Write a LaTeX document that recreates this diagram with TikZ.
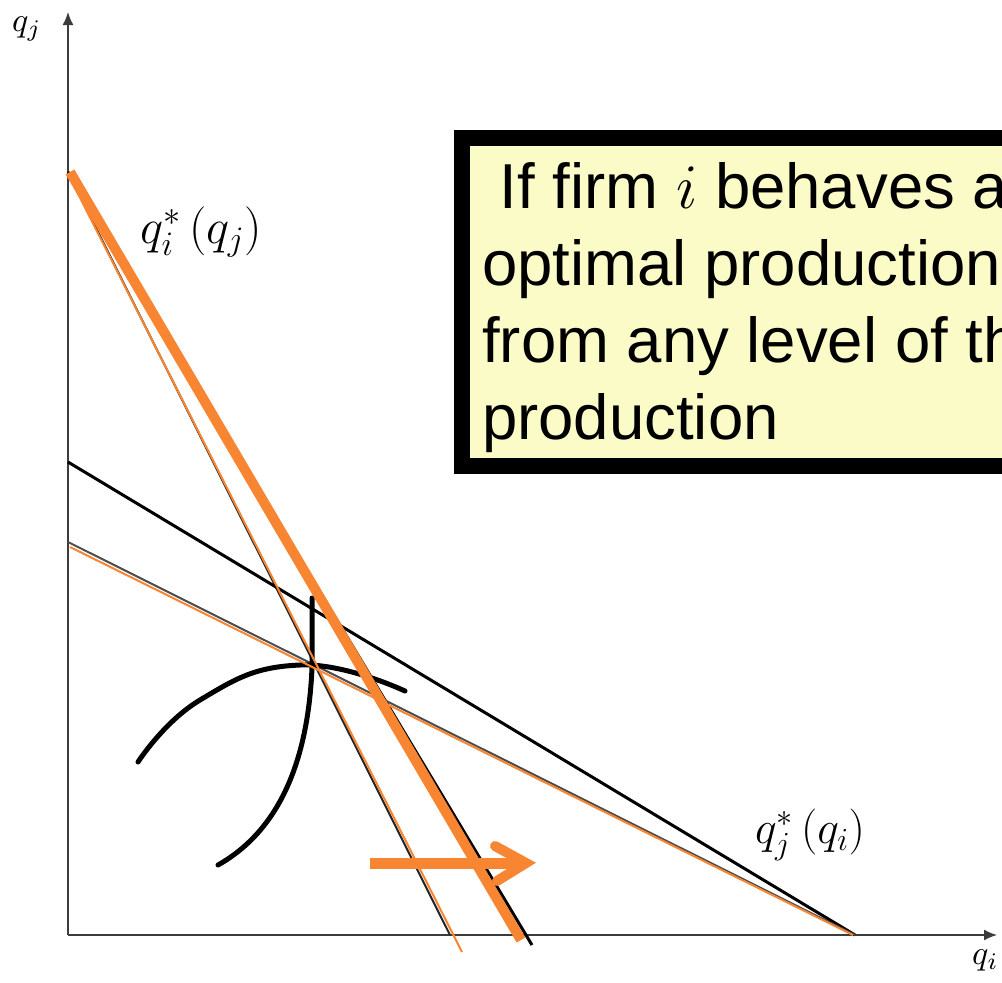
\RequirePackage{fix-cm}
\documentclass[tikz,border=0pt]{standalone}
\usepackage{fontspec}
\setmainfont{Liberation Sans}
\usetikzlibrary{arrows.meta}
\definecolor{plotorange}{RGB}{247,133,49}
\definecolor{boxyellow}{RGB}{251,251,200}
\definecolor{axisgray}{RGB}{60,60,60}
\begin{document}
\begin{tikzpicture}[x=1pt,y=-1pt,
  axis/.style={draw=axisgray,line width=1.6pt,-{Latex[length=13pt,width=11pt]}},
  blackthin/.style={draw=black!85,line width=2pt},
  blackmid/.style={draw=black,line width=3pt},
  orangethin/.style={draw=plotorange,line width=2pt},
  orangethick/.style={draw=plotorange,line width=10pt},
  curvestyle/.style={draw=black,line width=5pt,line cap=round},
  mathlbl/.style={inner sep=0pt},
  boxline/.style={anchor=base west,inner sep=0pt,font=\fontsize{63.5}{77}\selectfont}
]
\useasboundingbox (0,0) rectangle (1002,983);
\clip (0,0) rectangle (1002,983);
\fill[white] (0,0) rectangle (1002,983);

% named points
\coordinate (O) at (68,935);
\coordinate (Ytop) at (68,12);
\coordinate (Xend) at (997,935);
\coordinate (A) at (68,172);
\coordinate (Aor) at (70,178);
\coordinate (Ath) at (70,172);
\coordinate (B1) at (450,935);
\coordinate (B2) at (462,952);
\coordinate (B3) at (521,940);
\coordinate (B4) at (532,945);
\coordinate (C) at (68,462);
\coordinate (D) at (68,542);
\coordinate (Dor) at (70,547);
\coordinate (E) at (855,935);
\coordinate (Eor) at (853,935);

% axes
\draw[axis] (O) -- (Ytop);
\draw[axis] (O) -- (Xend);
\node[mathlbl] (qj) at (27,29) {\scalebox{3.4}{$q_j$}};
\node[mathlbl,anchor=north west] (qi) at (972,950) {\scalebox{3.4}{$q_i$}};

% black lines
\draw[blackthin] (A) -- (B1);
\draw[blackmid] (A) -- (B4);
\draw[blackmid] (C) -- (E);
\draw[blackthin,draw=black!70] (D) -- (E);

% curves
\draw[curvestyle] plot[smooth,tension=0.8] coordinates {(138,762) (200,700) (300,665) (405,691)};
\draw[curvestyle] (312,598) -- (312,668) .. controls (308,760) and (280,830) .. (218,865);

% orange lines
\draw[orangethin] (Aor) -- (B2);
\draw[orangethin] (Dor) -- (Eor);
\draw[orangethick] (Ath) -- (B3);

% arrow
\coordinate (arS) at (370,863);
\coordinate (arE) at (518,863);
\coordinate (arT) at (526,863);
\coordinate (arU) at (495,846);
\coordinate (arL) at (497,881);
\draw[plotorange,line width=11pt] (arS) -- (arE);
\draw[plotorange,line width=10pt,line cap=round,line join=miter] (arU) -- (arT) -- (arL);

% labels
\node[mathlbl,font=\fontsize{49}{58}\selectfont] (lblqi) at (201,232) {$q_i^{*}\,(q_j)$};
\node[mathlbl,font=\fontsize{46}{55}\selectfont] (lblqj) at (810,835) {$q_j^{*}\,(q_i)$};

% text box
\node[draw=black,line width=16pt,fill=boxyellow,outer sep=0pt,inner sep=0pt,
      minimum width=620pt,minimum height=328pt,anchor=north west] (note) at (462,138) {};
\node[boxline] (l1) at (482,208) {\hspace*{0.278em}If firm $i$ behaves a};
\node[boxline] (l2) at (482,285) {optimal production};
\node[boxline] (l3) at (482,362) {from any level of th};
\node[boxline] (l4) at (482,439) {production};
\end{tikzpicture}
\end{document}
